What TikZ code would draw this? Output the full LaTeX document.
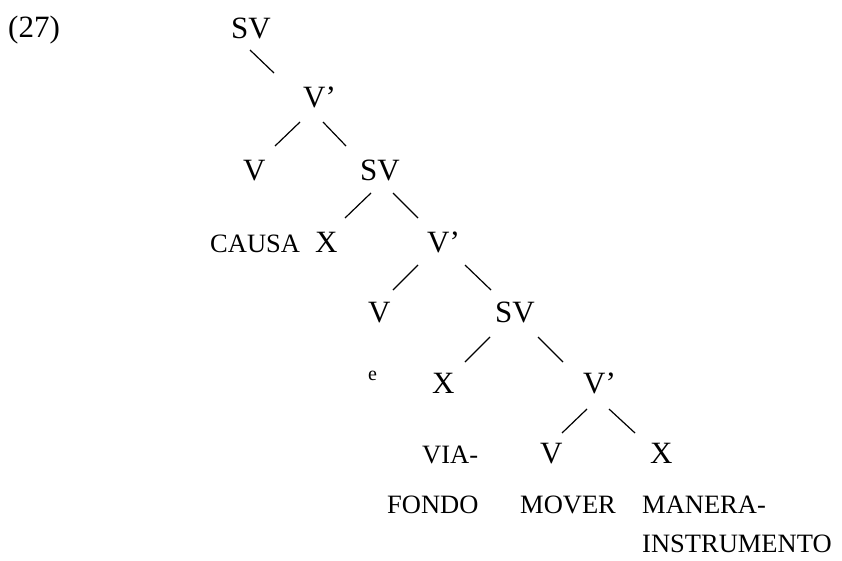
\documentclass[tikz,border=0pt]{standalone}
\usepackage{fontspec}
\setmainfont{Liberation Serif}
\begin{document}
\begin{tikzpicture}[x=1pt,y=-1pt,
  big/.style={inner sep=0pt,anchor=base west,font=\fontsize{31}{31}\selectfont},
  small/.style={inner sep=0pt,anchor=base west,font=\fontsize{26.5}{26.5}\selectfont},
  tiny/.style={inner sep=0pt,anchor=base west,font=\fontsize{20}{20}\selectfont},
  branch/.style={line width=1.2pt}]
\useasboundingbox (0,0) rectangle (842,560);
% labels
\node[big]   (ex)   at (8,37)    {(27)};
\node[big]   (sv1)  at (231,38)  {SV};
\node[big]   (vb1)  at (303,107) {V’};
\node[big]   (v1)   at (243,180) {V};
\node[big]   (sv2)  at (360,180) {SV};
\node[small] (causa) at (210,252) {CAUSA};
\node[big]   (x2)   at (315,252) {X};
\node[big]   (vb2)  at (427,252) {V’};
\node[big]   (v3)   at (368,322) {V};
\node[big]   (sv3)  at (495,322) {SV};
\node[tiny]  (e)    at (368,380) {e};
\node[big]   (x4)   at (432,393) {X};
\node[big]   (vb4)  at (583,393) {V’};
\node[small] (via)  at (422,463) {VIA-};
\node[big]   (v5)   at (540,463) {V};
\node[big]   (x5)   at (650,463) {X};
\node[small] (fondo) at (387,513) {FONDO};
\node[small] (mover) at (520,513) {MOVER};
\node[small] (manera) at (642,513) {MANERA-};
\node[small] (instr) at (642,552) {INSTRUMENTO};
% branch end points
\coordinate (a1) at (250,50);  \coordinate (b1) at (274,73);
\coordinate (a2) at (300,122); \coordinate (b2) at (275,146);
\coordinate (a3) at (323,122); \coordinate (b3) at (346,146);
\coordinate (a4) at (371,193); \coordinate (b4) at (345,218);
\coordinate (a5) at (393,193); \coordinate (b5) at (418,218);
\coordinate (a6) at (418,265); \coordinate (b6) at (393,290);
\coordinate (a7) at (465,265); \coordinate (b7) at (491,290);
\coordinate (a8) at (490,337); \coordinate (b8) at (465,362);
\coordinate (a9) at (538,337); \coordinate (b9) at (563,362);
\coordinate (a10) at (587,409); \coordinate (b10) at (562,433);
\coordinate (a11) at (609,409); \coordinate (b11) at (635,433);
\foreach \i in {1,...,11} {\draw[branch] (a\i) -- (b\i);}
\end{tikzpicture}
\end{document}
